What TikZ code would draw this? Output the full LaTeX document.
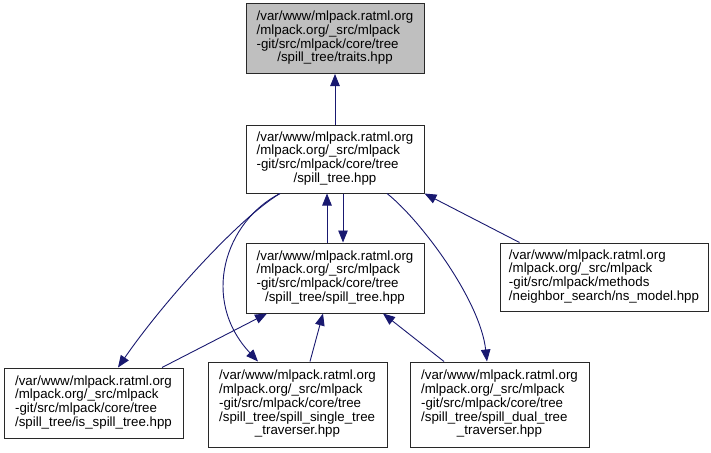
\documentclass[tikz,border=0pt]{standalone}
\usepackage{fontspec}
\setmainfont{Liberation Sans}
\usepackage{tikz}
\usetikzlibrary{positioning, arrows.meta, calc}
\definecolor{edgeblue}{RGB}{25, 25, 112}
\definecolor{rootgray}{RGB}{191, 191, 191}
\definecolor{boxline}{RGB}{40, 40, 40}

% file label: left lines, then a centred last line
\newcommand{\flabel}[2]{\begin{tabular}{@{}l@{}}#1\\\multicolumn{1}{@{}c@{}}{#2}\end{tabular}}

\tikzset{
    filebox/.style={draw=boxline, line width=1pt, fill=white, inner sep=1pt, align=center,
        font=\fontsize{13.3}{13.8}\selectfont},
    rootbox/.style={filebox, fill=rootgray},
    incl/.style={draw=edgeblue, line width=0.9pt, -{Triangle[length=12pt, width=9.5pt]}}
}

\begin{document}
\begin{tikzpicture}[x=1pt, y=-1pt]
    \useasboundingbox (0,0) rectangle (711,452);
    % File boxes
    \node[rootbox, minimum width=178, minimum height=70] (traits) at (335,38.5) {\flabel{/var/www/mlpack.ratml.org\\/mlpack.org/\_src/mlpack\\-git/src/mlpack/core/tree}{/spill\_tree/traits.hpp}};
    \node[filebox, minimum width=178, minimum height=68] (st) at (335,159) {\flabel{/var/www/mlpack.ratml.org\\/mlpack.org/\_src/mlpack\\-git/src/mlpack/core/tree}{/spill\_tree.hpp}};
    \node[filebox, minimum width=178, minimum height=70] (sst) at (335,278) {\flabel{/var/www/mlpack.ratml.org\\/mlpack.org/\_src/mlpack\\-git/src/mlpack/core/tree}{/spill\_tree/spill\_tree.hpp}};
    \node[filebox, minimum width=208, minimum height=68] (ns) at (604,277) {\flabel{/var/www/mlpack.ratml.org\\/mlpack.org/\_src/mlpack\\-git/src/mlpack/methods}{/neighbor\_search/ns\_model.hpp}};

    \node[filebox, minimum width=179, minimum height=70] (isst) at (93.5,403) {\flabel{/var/www/mlpack.ratml.org\\/mlpack.org/\_src/mlpack\\-git/src/mlpack/core/tree}{/spill\_tree/is\_spill\_tree.hpp}};
    \node[filebox, minimum width=179, minimum height=85] (single) at (297.5,404.5) {\flabel{/var/www/mlpack.ratml.org\\/mlpack.org/\_src/mlpack\\-git/src/mlpack/core/tree\\/spill\_tree/spill\_single\_tree}{\_traverser.hpp}};
    \node[filebox, minimum width=179, minimum height=85] (dual) at (499.5,404.5) {\flabel{/var/www/mlpack.ratml.org\\/mlpack.org/\_src/mlpack\\-git/src/mlpack/core/tree\\/spill\_tree/spill\_dual\_tree}{\_traverser.hpp}};

    % Include edges
    \draw[incl] (st.north) -- (traits.south);
    \draw[incl] ([xshift=-8pt]sst.north) -- ([xshift=-8pt]st.south);
    \draw[incl] ([xshift=8pt]st.south) -- ([xshift=8pt]sst.north);
    \draw[incl] ([xshift=20pt]ns.north west) -- (st.south east);
    \draw[incl] ([xshift=-55pt]st.south) .. controls +(-40,24) and +(47,-68) .. ([xshift=24.5pt]isst.north);
    \draw[incl] ([xshift=-55pt]st.south) .. controls +(-55,28) and +(-58,-62) .. ([xshift=-39.5pt]single.north);
    \draw[incl] ([xshift=52pt]st.south) .. controls +(33,26) and +(-7,-62) .. ([xshift=-12.5pt]dual.north);
    \draw[incl] ([xshift=68.5pt]isst.north) -- ([xshift=-68pt]sst.south);
    \draw[incl] ([xshift=12.5pt]single.north) -- ([xshift=-12pt]sst.south);
    \draw[incl] ([xshift=-55.5pt]dual.north) -- ([xshift=48pt]sst.south);
\end{tikzpicture}
\end{document}
